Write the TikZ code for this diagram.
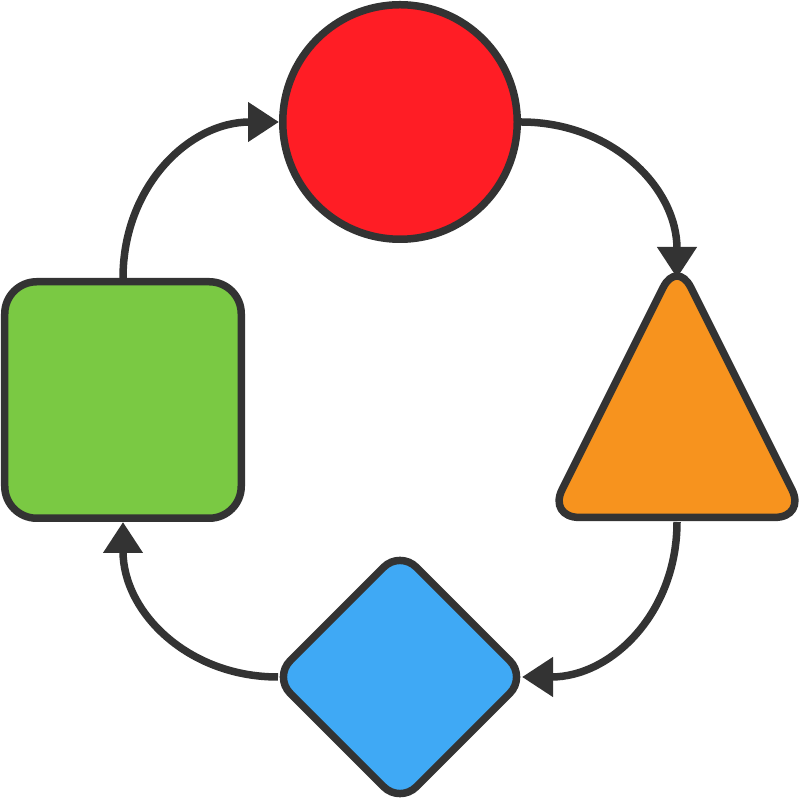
\documentclass[tikz,border=0pt]{standalone}
\usetikzlibrary{shapes.geometric,arrows.meta,calc}
\definecolor{cred}{HTML}{FF1D25}
\definecolor{corange}{HTML}{F7931E}
\definecolor{cgreen}{HTML}{7AC943}
\definecolor{cblue}{HTML}{3FA9F5}
\definecolor{cline}{HTML}{333333}
\begin{document}
\begin{tikzpicture}[x=1bp,y=1bp,
  shapebox/.style={draw=cline, line width=7.5bp, inner sep=0pt},
  conn/.style={draw=cline, line width=7.5bp, -{Triangle[length=31bp,width=38bp]}, looseness=1.05}]
\useasboundingbox (0,0) rectangle (799,800);
\node[shapebox, circle, fill=cred, minimum size=234.5bp] (circ) at (400,678) {};
\node[shapebox, rectangle, rounded corners=32bp, fill=cgreen, minimum size=236.5bp] (sq) at (123,400) {};
\node[shapebox, diamond, aspect=1, rounded corners=23bp, fill=cblue, minimum width=255.3bp, minimum height=255.3bp] (dia) at (400,123) {};
\node[shapebox, isosceles triangle, isosceles triangle stretches, shape border rotate=90, rounded corners=31bp, fill=corange, minimum width=257.6bp, minimum height=257.6bp, outer sep=0pt, anchor=apex] (tri) at (677,540.2) {};
\coordinate (triTop) at (677,522);
\coordinate (triBot) at (677,278);
\coordinate (diaE) at ($(dia.center)+(122,0)$);
\coordinate (diaW) at ($(dia.center)+(-122,0)$);
\draw[conn] (sq.north) to[out=90,in=180] (circ.west);
\draw[conn] (circ.east) to[out=0,in=90] (triTop);
\draw[conn] (triBot) to[out=-90,in=0] (diaE);
\draw[conn] (diaW) to[out=180,in=-90] (sq.south);
\end{tikzpicture}
\end{document}
